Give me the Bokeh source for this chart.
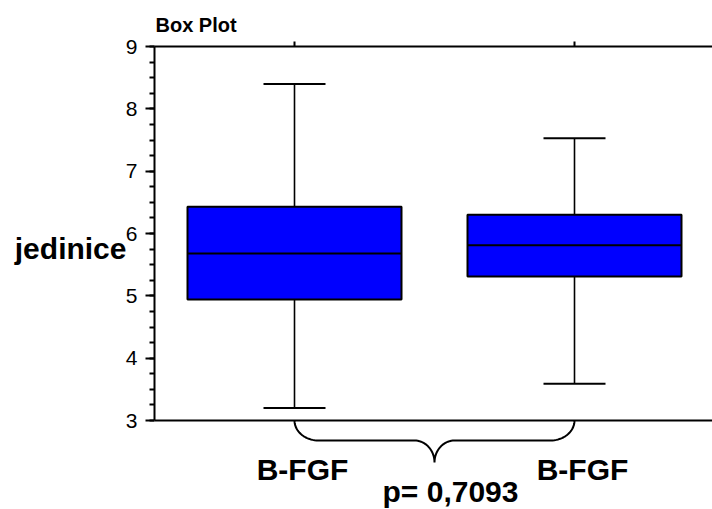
import numpy as np
from bokeh.plotting import figure
from bokeh.models import Range1d, LinearAxis, FixedTicker, Span, ColumnDataSource
from bokeh.core.properties import value
from bokeh.embed import file_html
from bokeh.resources import INLINE

# ---- data ----
categories = ["B-FGF", "B-FGF"]
positions = [1, 2]
lower = [3.20, 3.59]
q1 = [4.94, 5.31]
median = [5.68, 5.81]
q3 = [6.43, 6.30]
upper = [8.40, 7.53]
y_ticks = [3, 4, 5, 6, 7, 8, 9]
p_value_text = "p= 0,7093"
y_label = "jedinice"
title_text = "Box Plot"

# ---- layout constants (pixels) ----
W, H = 712, 509
BL, BT, BB, BR = 154, 46, 0, 0
frame_w = W - BL - BR
frame_h = H - BT - BB
px_per_x = 280.0
x0 = 0.5
x1 = x0 + frame_w / px_per_x
axis_min, axis_max = 3, 9
px_per_y = 374.0 / (axis_max - axis_min)
y_start = axis_max - frame_h / px_per_y   # frame continues below the axis to hold the brace


def dx(px):
    return px / px_per_x


def dy(px):
    return px / px_per_y


p = figure(width=W, height=H, output_backend="svg", toolbar_location=None,
           x_range=Range1d(x0, x1), y_range=Range1d(y_start, axis_max),
           min_border_left=BL, min_border_top=BT, min_border_bottom=BB,
           min_border_right=BR, x_axis_location=None, y_axis_location=None)
p.outline_line_color = None
p.xgrid.visible = False
p.ygrid.visible = False
p.background_fill_color = "white"
p.border_fill_color = "white"

# title
p.title.text = title_text
p.title.align = "left"
p.title.offset = 1
p.title.standoff = 11
p.title.text_font = "Liberation Sans"
p.title.text_font_style = "bold"
p.title.text_font_size = "20px"
p.title.text_color = "black"

# left axis (value axis, limited to 3..9)
ya = LinearAxis(ticker=FixedTicker(ticks=y_ticks,
                                   minor_ticks=list(np.arange(axis_min, axis_max + 1e-9, 0.25))),
                bounds=(axis_min, axis_max))
ya.axis_line_width = 2
ya.axis_line_color = "black"
ya.major_tick_line_width = 2
ya.major_tick_out = 9
ya.major_tick_in = 0
ya.minor_tick_line_width = 2
ya.minor_tick_out = 5
ya.minor_tick_in = 0
ya.major_label_standoff = 8
ya.major_label_text_font = "Liberation Sans"
ya.major_label_text_font_size = "21px"
ya.major_label_text_color = "black"
p.add_layout(ya, "left")

# outer left axis only carrying the horizontal y title
label_y = axis_max - dy(248 - BT)
ja = LinearAxis(ticker=FixedTicker(ticks=[label_y], minor_ticks=[]),
                major_label_overrides={label_y: y_label})
ja.axis_line_color = None
ja.major_tick_line_color = None
ja.major_tick_out = 0
ja.major_tick_in = 0
ja.minor_tick_line_color = None
ja.major_label_standoff = -4
ja.major_label_text_font = "Liberation Sans"
ja.major_label_text_font_style = "bold"
ja.major_label_text_font_size = "30px"
ja.major_label_text_color = "black"
p.add_layout(ja, "left")

# top axis (line + ticks at categories, no labels)
ta = LinearAxis(ticker=FixedTicker(ticks=positions, minor_ticks=[]))
ta.axis_line_width = 2
ta.major_tick_line_width = 2
ta.major_tick_out = 5
ta.major_tick_in = 0
ta.major_label_text_font_size = "0px"
ta.major_label_text_color = None
ta.major_label_standoff = 0
p.add_layout(ta, "above")

# bottom axis line at the lower bound of the value axis
p.add_layout(Span(location=axis_min, dimension="width", line_color="black", line_width=2))

# ---- box plot ----
box_w = dx(214)
cap_w = dx(62)
pos = np.array(positions, dtype=float)
p.segment(x0=positions, y0=q3, x1=positions, y1=upper, line_color="black", line_width=1.6)
p.segment(x0=positions, y0=q1, x1=positions, y1=lower, line_color="black", line_width=1.6)
p.vbar(x=positions, bottom=q1, top=q3, width=box_w, fill_color="#0000FF",
       line_color="black", line_width=2)
p.segment(x0=pos - box_w / 2, y0=median, x1=pos + box_w / 2, y1=median,
          line_color="black", line_width=2)
p.segment(x0=pos - cap_w / 2, y0=upper, x1=pos + cap_w / 2, y1=upper,
          line_color="black", line_width=2)
p.segment(x0=pos - cap_w / 2, y0=lower, x1=pos + cap_w / 2, y1=lower,
          line_color="black", line_width=2)

# ---- brace between the two groups ----
xa, xb = positions
xm = (xa + xb) / 2
rx, ry = dx(24), dy(20)
rx2, ry2 = dx(20), dy(22)
ytop = axis_min
n = 20
xs, ys = [], []
t = np.linspace(np.pi, 1.5 * np.pi, n)
xs += list(xa + rx + rx * np.cos(t)); ys += list(ytop + ry * np.sin(t))
t = np.linspace(0.5 * np.pi, 0, n)
xs += list(xm - rx2 + rx2 * np.cos(t)); ys += list(ytop - ry - ry2 + ry2 * np.sin(t))
t = np.linspace(np.pi, 0.5 * np.pi, n)
xs += list(xm + rx2 + rx2 * np.cos(t)); ys += list(ytop - ry - ry2 + ry2 * np.sin(t))
t = np.linspace(1.5 * np.pi, 2 * np.pi, n)
xs += list(xb - rx + rx * np.cos(t)); ys += list(ytop + ry * np.sin(t))
p.line(xs, ys, line_color="black", line_width=2)

# ---- texts below the axis ----
cat_src = ColumnDataSource(dict(x=list(pos + dx(8)),
                                y=[axis_min - dy(49)] * len(categories),
                                text=categories))
p.text(x="x", y="y", text="text", source=cat_src,
       text_font=value("Liberation Sans"), text_font_style="bold",
       text_font_size="30px", text_align="center", text_baseline="middle",
       text_color="black")
p.text(x=[xm + dx(16)], y=[axis_min - dy(71)], text=[p_value_text],
       text_font=value("Liberation Sans"), text_font_style="bold",
       text_font_size="30px", text_align="center", text_baseline="middle",
       text_color="black")

open("out.html", "w").write(file_html(p, INLINE))
